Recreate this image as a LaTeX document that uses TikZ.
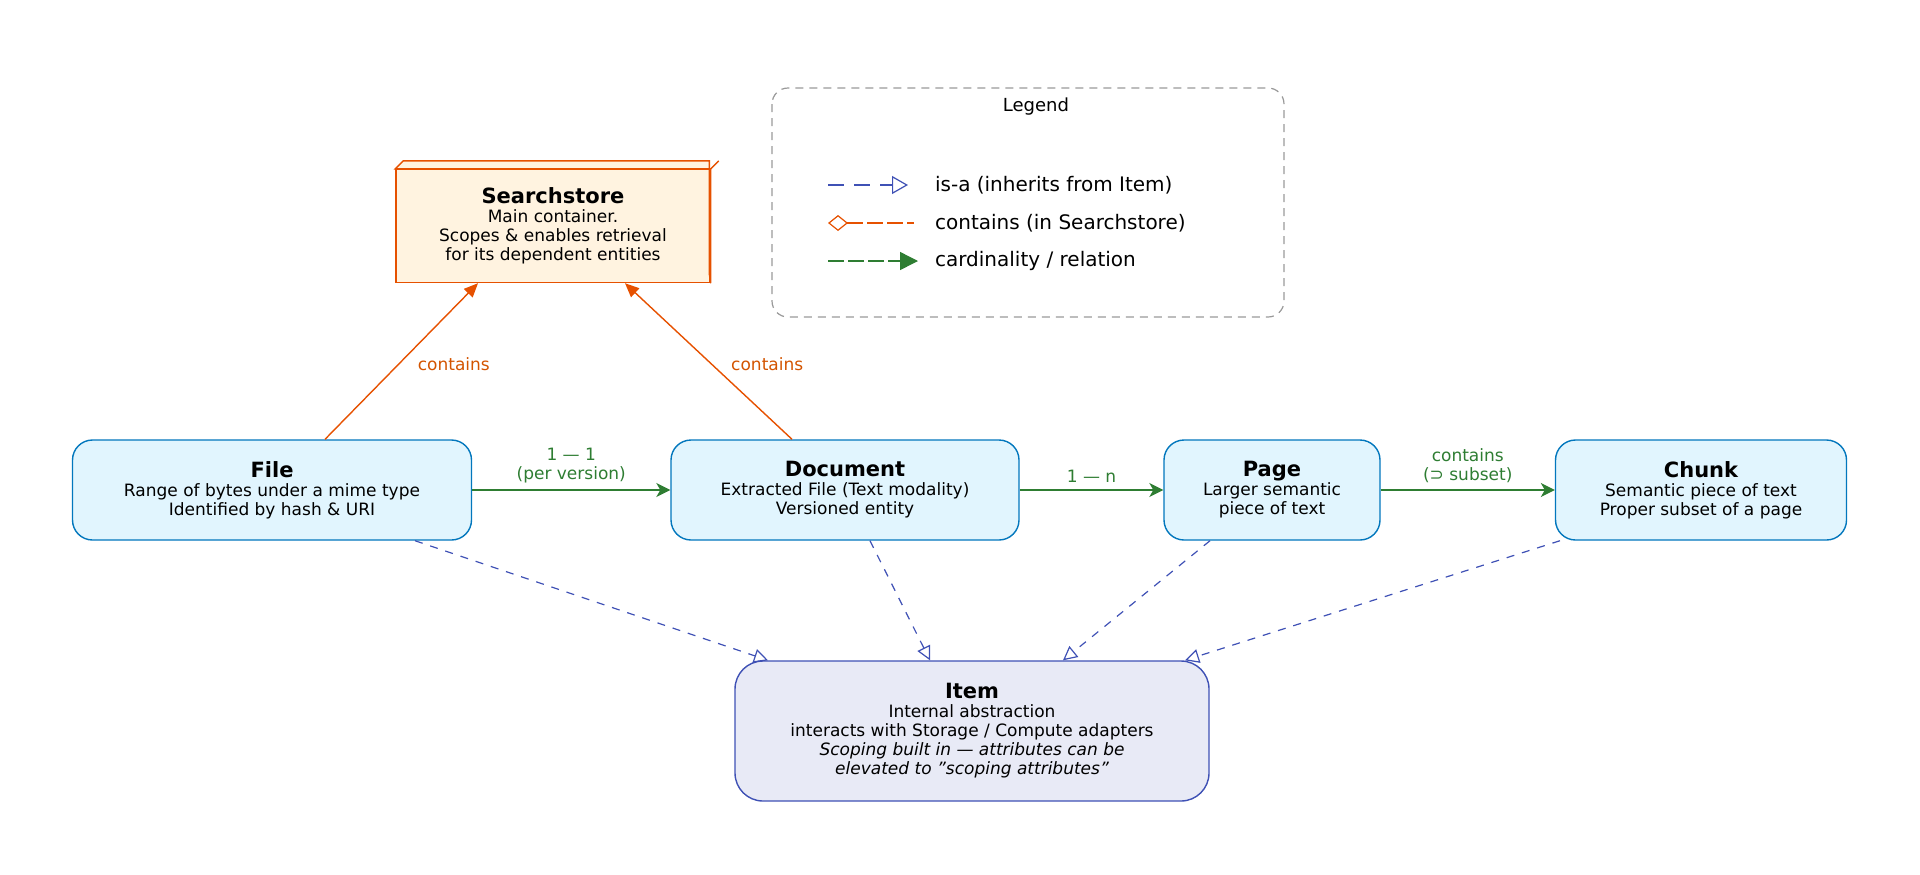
\documentclass[tikz,border=0pt]{standalone}
\usepackage{fontspec}
\setmainfont{DejaVu Sans}
\usetikzlibrary{arrows.meta}
\definecolor{bfill}{HTML}{E1F5FE}\definecolor{bdraw}{HTML}{0277BD}
\definecolor{ifill}{HTML}{E8EAF6}\definecolor{idraw}{HTML}{3F51B5}
\definecolor{gr}{HTML}{2E7D32}\definecolor{orr}{HTML}{E65100}
\definecolor{ofill}{HTML}{FFF3E0}\definecolor{olab}{HTML}{D35400}
\tikzset{
 ent/.style={draw=bdraw,fill=bfill,rounded corners=10pt,line width=0.7pt,align=center,font=\fontsize{8.5}{9.5}\selectfont,inner sep=2pt},
 rel/.style={draw=gr,line width=0.7pt,-{Stealth[length=7pt,width=7pt,inset=2pt]}},
 rlab/.style={text=gr,font=\fontsize{8.5}{9.5}\selectfont,align=center},
 cont/.style={draw=orr,line width=0.7pt,-{Triangle[length=7pt,width=6pt]}},
 clab/.style={text=olab,font=\fontsize{8.5}{9.5}\selectfont},
 isa/.style={draw=idraw,line width=0.6pt,dash pattern=on 4pt off 4pt,-{Triangle[open,length=7pt,width=7pt]}},
}
\begin{document}
\begin{tikzpicture}[x=0.5pt,y=-0.5pt]
\useasboundingbox (0,0) rectangle (1920,874);
% legend
\draw[gray!80,dash pattern=on 4pt off 3pt,rounded corners=8pt,line width=0.6pt] (772,88) rectangle (1284,317);
\node[font=\fontsize{9}{10}\selectfont] (lg) at (1036,107) {Legend};
\coordinate (l1a) at (828,185); \coordinate (l1b) at (908,185);
\coordinate (l2a) at (828,223); \coordinate (l2b) at (914,223);
\coordinate (l3a) at (828,261); \coordinate (l3b) at (918,261);
\draw[idraw,line width=0.6pt,dash pattern=on 8pt off 5pt,-{Triangle[open,length=8pt,width=9pt]}] (l1a)--(l1b);
\draw[orr,line width=0.6pt,dash pattern=on 8pt off 2pt,{Diamond[open,length=10pt,width=8pt]}-] (l2a)--(l2b);
\draw[gr,line width=0.7pt,dash pattern=on 8pt off 2pt,-{Triangle[length=9pt,width=9pt]}] (l3a)--(l3b);
\node[anchor=west,font=\fontsize{10}{11}\selectfont] (t1) at (928,185) {is-a (inherits from Item)};
\node[anchor=west,font=\fontsize{10}{11}\selectfont] (t2) at (928,223) {contains (in Searchstore)};
\node[anchor=west,font=\fontsize{10}{11}\selectfont] (t3) at (928,261) {cardinality / relation};
% searchstore
\node[draw=orr,fill=ofill,line width=0.7pt,minimum width=157pt,minimum height=56.5pt,align=center,font=\fontsize{8.5}{9.5}\selectfont,inner sep=2pt] (ss) at (553,226)
 {{\fontsize{10.5}{12}\selectfont\bfseries Searchstore}\\Main container.\\Scopes \& enables retrieval\\for its dependent entities};
\draw[orr,fill=ofill,line width=0.7pt] (ss.north west)--++(8,-8)-|++(306,113)--(ss.south east)--(ss.north east)--cycle;
\draw[orr,line width=0.7pt] (ss.north east)--++(8,-8);
% entities
\node[ent,minimum width=199.5pt,minimum height=50pt] (file) at (272,490)
 {{\fontsize{10.5}{12}\selectfont\bfseries File}\\Range of bytes under a mime type\\Identified by hash \& URI};
\node[ent,minimum width=174pt,minimum height=50pt] (doc) at (845,490)
 {{\fontsize{10.5}{12}\selectfont\bfseries Document}\\Extracted File (Text modality)\\Versioned entity};
\node[ent,minimum width=108pt,minimum height=50pt] (page) at (1272,490)
 {{\fontsize{10.5}{12}\selectfont\bfseries Page}\\Larger semantic\\piece of text};
\node[ent,minimum width=145.5pt,minimum height=50pt] (chunk) at (1701,490)
 {{\fontsize{10.5}{12}\selectfont\bfseries Chunk}\\Semantic piece of text\\Proper subset of a page};
\node[ent,draw=idraw,fill=ifill,rounded corners=14pt,minimum width=237pt,minimum height=70pt] (item) at (972,731)
 {{\fontsize{10.5}{12}\selectfont\bfseries Item}\\Internal abstraction\\interacts with Storage / Compute adapters\\\itshape Scoping built in — attributes can be\\\itshape elevated to "scoping attributes"};
% contains
\draw[cont] (file.north -| 325,0) -- node[clab,pos=0.48,right=6pt]{contains} (ss.south -| 478,0);
\draw[cont] (doc.north -| 792,0) -- node[clab,pos=0.48,right=6pt]{contains} (ss.south -| 625,0);
% relations
\draw[rel] (file) -- node[rlab,above]{1 — 1\\(per version)} (doc);
\draw[rel] (doc) -- node[rlab,above]{1 — n} (page);
\draw[rel] (page) -- node[rlab,above]{contains\\(⊃ subset)} (chunk);
% isa
\draw[isa] (file.south -| 415,0) -- (item.north -| 768,0);
\draw[isa] (doc.south -| 870,0) -- (item.north -| 930,0);
\draw[isa] (page.south -| 1210,0) -- (item.north -| 1063,0);
\draw[isa] (chunk.south -| 1560,0) -- (item.north -| 1185,0);
\end{tikzpicture}
\end{document}
